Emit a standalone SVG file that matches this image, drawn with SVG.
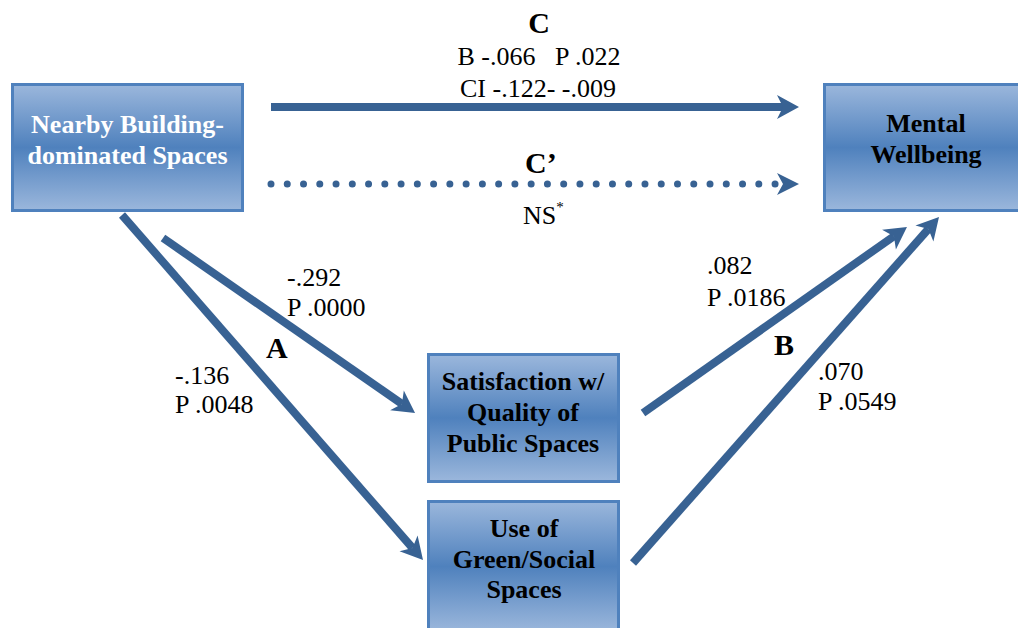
<svg xmlns="http://www.w3.org/2000/svg" width="1018" height="628" viewBox="0 0 1018 628">
  <style>
    .box { stroke: #4f81bd; stroke-width: 3; fill: url(#boxFill); }
    .title { font-family: "Liberation Serif", "Times New Roman", serif; font-size: 26px; font-weight: bold; text-anchor: middle; fill: #000; }
    .title.light { fill: #ffffff; }
    .lbl { font-family: "Liberation Serif", "Times New Roman", serif; font-size: 26px; fill: #000; }
    .path-id { font-family: "Liberation Serif", "Times New Roman", serif; font-size: 30px; font-weight: bold; fill: #000; }
    .mid { text-anchor: middle; }
    .edge { stroke: #386293; stroke-width: 8; fill: none; }
    .dots { stroke: #386293; stroke-width: 7; stroke-linecap: round; stroke-dasharray: 0 16.26; fill: none; }
  </style>
  <defs>
    <linearGradient id="boxFill" x1="0" y1="0" x2="0" y2="1">
      <stop offset="0" stop-color="#9bb7dc"/>
      <stop offset="0.5" stop-color="#4f81bd"/>
      <stop offset="1" stop-color="#9bb7dc"/>
    </linearGradient>
    <!-- notched arrowhead; the line ends at the notch (0,0) -->
    <marker id="head" markerUnits="userSpaceOnUse" viewBox="-8 -14 28 28" markerWidth="28" markerHeight="28" refX="0" refY="0" orient="auto" overflow="visible">
      <path d="M-6,-12 L16,0 L-6,12 L0,0 Z" fill="#386293"/>
    </marker>
    <marker id="headSmall" markerUnits="userSpaceOnUse" viewBox="-8 -14 28 28" markerWidth="28" markerHeight="28" refX="0" refY="0" orient="auto" overflow="visible">
      <path d="M-6,-11 L16,0 L-6,11 L0,0 Z" fill="#386293"/>
    </marker>
  </defs>

  <rect width="1018" height="628" fill="#ffffff"/>

  <!-- connectors -->
  <g id="connectors">
    <line class="edge" x1="271" y1="107" x2="783" y2="107" marker-end="url(#head)"/>
    <line class="dots" x1="271" y1="184" x2="783" y2="184"/>
    <path d="M777,173 L799,184 L777,195 L783,184 Z" fill="#386293"/>
    <line class="edge" x1="163" y1="238" x2="401.9" y2="403.9" marker-end="url(#head)"/>
    <line class="edge" x1="122" y1="215" x2="412.5" y2="548" marker-end="url(#head)"/>
    <line class="edge" x1="643" y1="413" x2="893.9" y2="236.2" marker-end="url(#head)"/>
    <line class="edge" x1="633" y1="563" x2="928.4" y2="229" marker-end="url(#head)"/>
  </g>

  <!-- path labels -->
  <g id="labels">
    <text class="path-id mid" x="539" y="33">C</text>
    <text class="lbl mid" x="539" y="65" xml:space="preserve">B -.066   P .022</text>
    <text class="lbl mid" x="538" y="97">CI -.122- -.009</text>
    <text class="path-id" x="525" y="173">C’</text>
    <text class="lbl" x="523" y="224">NS<tspan font-size="15" dy="-12">*</tspan></text>
    <text class="lbl" x="287" y="286">-.292</text>
    <text class="lbl" x="287" y="316">P .0000</text>
    <text class="path-id" x="266" y="358" font-size="28">A</text>
    <text class="lbl" x="175" y="384">-.136</text>
    <text class="lbl" x="175" y="413">P .0048</text>
    <text class="lbl" x="707" y="274">.082</text>
    <text class="lbl" x="707" y="306">P .0186</text>
    <text class="path-id" x="774" y="355" font-size="28">B</text>
    <text class="lbl" x="818" y="380">.070</text>
    <text class="lbl" x="818" y="410">P .0549</text>
  </g>

  <g id="node-building">
    <rect class="box" x="12.5" y="84.5" width="230" height="126"/>
    <text class="title light" x="127.5" y="133">Nearby Building-</text>
    <text class="title light" x="127.5" y="164">dominated Spaces</text>
  </g>

  <g id="node-wellbeing">
    <rect class="box" x="824.5" y="84.5" width="205" height="126"/>
    <text class="title" x="926" y="132">Mental</text>
    <text class="title" x="926" y="163">Wellbeing</text>
  </g>

  <g id="node-satisfaction">
    <rect class="box" x="428.5" y="354.5" width="190" height="127"/>
    <text class="title" x="523" y="390">Satisfaction w/</text>
    <text class="title" x="523" y="421">Quality of</text>
    <text class="title" x="523" y="452">Public Spaces</text>
  </g>

  <g id="node-use">
    <rect class="box" x="428.5" y="501.5" width="190" height="130"/>
    <text class="title" x="524" y="537">Use of</text>
    <text class="title" x="524" y="568">Green/Social</text>
    <text class="title" x="524" y="598">Spaces</text>
  </g>
</svg>
